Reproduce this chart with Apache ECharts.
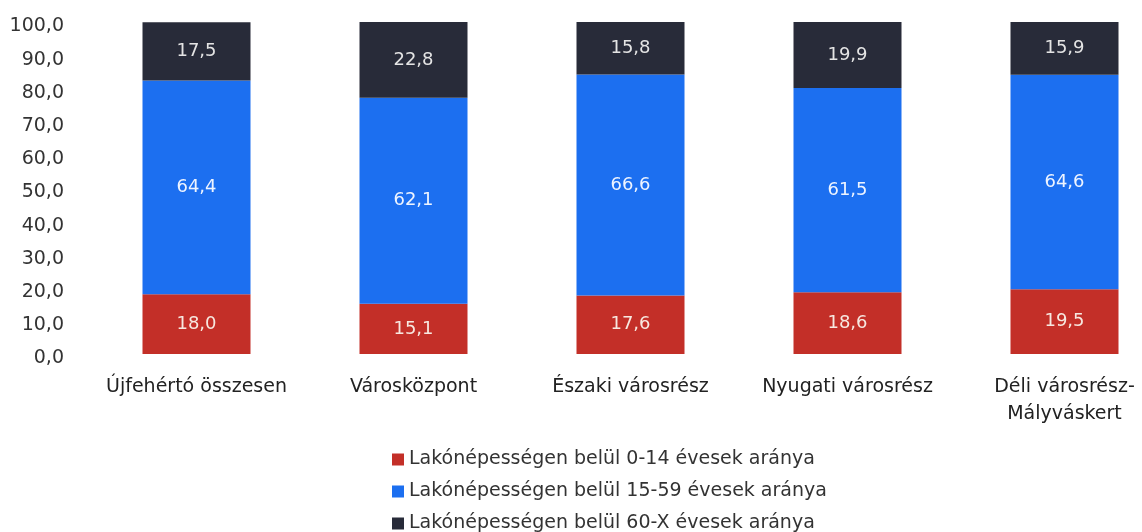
<!DOCTYPE html>
<html><head><meta charset="utf-8">
<script src="https://cdn.jsdelivr.net/npm/echarts@6/dist/echarts.min.js"></script>
<style>html,body{margin:0;padding:0;background:#fff;overflow:hidden;width:1142px;height:532px}#c{width:1173px;height:532px}</style>
</head><body><div id="c"></div>
<script>
const categories = ["Újfehértó összesen", "Városközpont", "Északi városrész", "Nyugati városrész", "Déli városrész-\nMályváskert"];
const seriesNames = ["Lakónépességen belül 0-14 évesek aránya", "Lakónépességen belül 15-59 évesek aránya", "Lakónépességen belül 60-X évesek aránya"];
const age0_14 = [18.0, 15.1, 17.6, 18.6, 19.5];
const age15_59 = [64.4, 62.1, 66.6, 61.5, 64.6];
const age60x = [17.5, 22.8, 15.8, 19.9, 15.9];
const colors = ["#c32f28", "#1c6ff0", "#282b39"];
const labelColors = ["#f7e8e0", "#eef4ff", "#e4e4e4"];
const FONT = 'DejaVu Sans';

const fmt = v => v.toFixed(1).replace('.', ',');
const chart = echarts.init(document.getElementById('c'));
const data = [age0_14, age15_59, age60x];
chart.setOption({
  animation: false,
  grid: { left: 88, top: 22, right: 0, bottom: 178, containLabel: false },
  legend: {
    orient: 'vertical', left: 387, top: 445, itemGap: 13, itemWidth: 12, itemHeight: 12,
    icon: 'rect', height: 90,
    textStyle: { fontSize: 19, lineHeight: 19, color: '#333', fontFamily: FONT },
    data: seriesNames
  },
  xAxis: {
    type: 'category', data: categories,
    axisLine: { show: false }, axisTick: { show: false },
    axisLabel: { fontSize: 19, color: '#222', margin: 20, lineHeight: 27, fontFamily: FONT, interval: 0 }
  },
  yAxis: {
    type: 'value', min: 0, max: 100, interval: 10,
    splitLine: { show: false }, axisLine: { show: false }, axisTick: { show: false },
    axisLabel: {
      color: '#333', margin: 24, fontFamily: FONT,
      formatter: v => '{a|' + fmt(v) + '}',
      rich: { a: { fontSize: 19, fontFamily: FONT, color: '#333', padding: [9, 0, 0, 0] } }
    }
  },
  series: data.map((d, i) => ({
    name: seriesNames[i], type: 'bar', stack: 'a', barWidth: 108,
    data: d, itemStyle: { color: colors[i] },
    label: { show: true, position: 'inside', color: labelColors[i], fontSize: 18, fontFamily: FONT, formatter: p => fmt(p.value) }
  }))
});
</script></body></html>
